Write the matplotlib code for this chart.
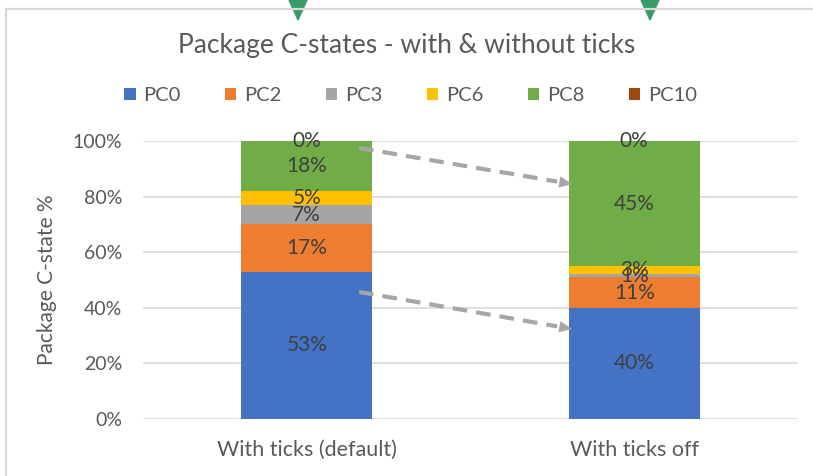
import matplotlib.pyplot as plt
import numpy as np
from matplotlib.lines import Line2D
from matplotlib.patches import Polygon

plt.rcParams['font.family'] = ['Lato', 'DejaVu Sans']

categories = ['With ticks (default)', 'With ticks off']
states = ['PC0', 'PC2', 'PC3', 'PC6', 'PC8', 'PC10']
values = {
    'PC0': [53, 40],
    'PC2': [17, 11],
    'PC3': [7, 1],
    'PC6': [5, 3],
    'PC8': [18, 45],
    'PC10': [0, 0],
}
colors = ['#4472C4', '#ED7D31', '#A5A5A5', '#FFC000', '#70AD47', '#9E480E']

fig = plt.figure(figsize=(8.13, 4.76), dpi=100)
ax = fig.add_axes([0.1759, 0.1197, 0.8056, 0.5841])

x = np.arange(len(categories))
bottom = np.zeros(len(categories))
for name, col in zip(states, colors):
    v = np.array(values[name], dtype=float)
    ax.bar(x, v, 0.4, bottom=bottom, color=col, label=name, zorder=2)
    for xi, vi, bi in zip(x, v, bottom):
        ax.text(xi, bi + vi / 2, '%d%%' % vi, ha='center', va='center',
                fontsize=15, color='#404040', zorder=4)
    bottom += v

ax.set_xlim(-0.5, 1.5)
ax.set_ylim(0, 100)
ax.set_yticks(range(0, 101, 20))
ax.set_yticklabels(['%d%%' % t for t in range(0, 101, 20)])
ax.set_xticks(x)
ax.set_xticklabels(categories)
ax.tick_params(length=0, labelsize=14, labelcolor='#595959', pad=10)
ax.tick_params(axis='y', pad=15)
ax.tick_params(axis='x', labelsize=15.5, pad=15)
ax.yaxis.grid(True, color='#d9d9d9', lw=1.2, zorder=0)
for s in ax.spines.values():
    s.set_visible(False)
ax.set_ylabel('Package C-state %', fontsize=15, color='#595959', labelpad=11)

# dashed arrows between bars
arrows = [((0.16, 97.5), (0.81, 84.5)), ((0.16, 45.7), (0.81, 32.4))]
for (x0, y0), (x1, y1) in arrows:
    xm = x0 + (x1 - x0) * 0.93
    ym = y0 + (y1 - y0) * 0.93
    ax.plot([x0, xm], [y0, ym], color='#a6a6a6', lw=3, ls=(0, (3.5, 2.2)),
            zorder=5, solid_capstyle='butt', dash_capstyle='butt')
    ax.annotate('', xy=(x1, y1), xytext=(xm, ym),
                arrowprops=dict(arrowstyle='-|>,head_length=0.9,head_width=0.4',
                                color='#a6a6a6', lw=0.1, shrinkA=0, shrinkB=0),
                zorder=5)

fig.suptitle('Package C-states - with & without ticks', y=0.93, fontsize=19,
             color='#595959')
fig.legend(loc='center', bbox_to_anchor=(0.505, 0.80), ncol=6, frameon=False,
           fontsize=14.5, handlelength=0.55, handleheight=0.55, handletextpad=0.4,
           columnspacing=2.2, labelcolor='#595959')

# chart frame and markers above it
W, H = 813, 476
fig.add_artist(Line2D([6 / W, 1], [1 - 8.5 / H, 1 - 8.5 / H], color='#d9d9d9', lw=1.6))
fig.add_artist(Line2D([6 / W, 6 / W], [0, 1 - 8.5 / H], color='#d9d9d9', lw=1.6))
for cx in [298, 650]:
    fig.add_artist(Polygon([((cx - 9) / W, 1), ((cx + 9) / W, 1), (cx / W, 1 - 20 / H)],
                           closed=True, color='#3c9a6a', transform=fig.transFigure))

fig.savefig('out.png', dpi=100)
